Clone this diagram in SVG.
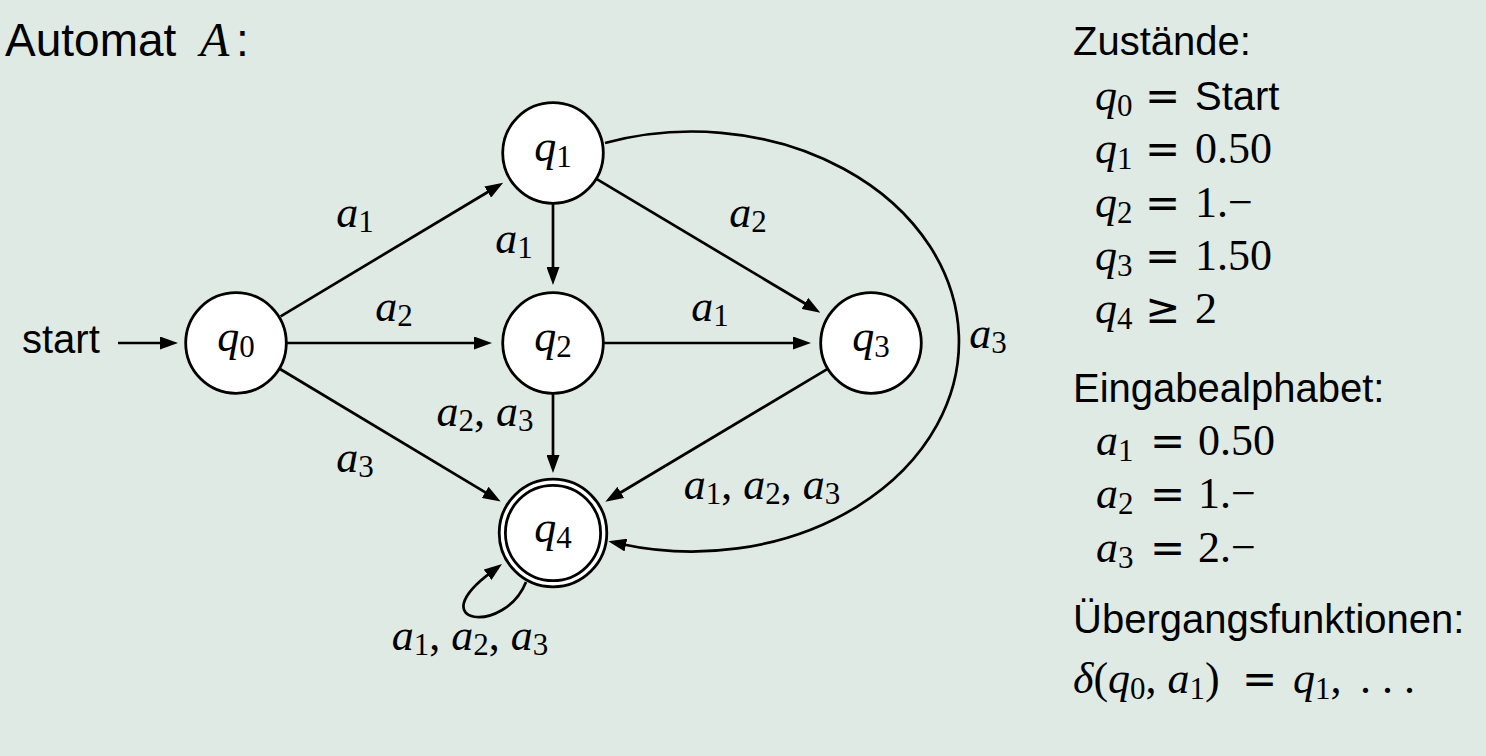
<svg xmlns="http://www.w3.org/2000/svg" width="1486" height="756" viewBox="0 0 1486 756">
<defs>
<style>
.node circle{fill:#fff;stroke:#000;stroke-width:2.8}
.edge{fill:none;stroke:#000;stroke-width:2.7;marker-end:url(#arr)}
.m{font-family:"Liberation Serif","DejaVu Serif",serif;font-size:44px;fill:#000}
.i{font-style:italic}
.s{font-size:31px}
.eq{font-family:"DejaVu Sans",sans-serif;font-size:42px;fill:#000}
.sans{font-family:"Liberation Sans",Arial,sans-serif;font-size:40px;fill:#000}
.ctr{text-anchor:middle}
</style>
<marker id="arr" markerUnits="userSpaceOnUse" markerWidth="18" markerHeight="13" refX="5" refY="6.5" orient="auto">
<path d="M0,0 L18,6.5 L0,13 z" fill="#000"/>
</marker>
</defs>
<rect x="0" y="0" width="1486" height="756" fill="#e0eae4"/>

<!-- title -->
<g id="title">
<text x="5" y="56" class="sans" style="font-size:46px">Automat</text>
<text x="200" y="56" class="m i" style="font-size:48px">A</text>
<text x="236" y="56" class="sans" style="font-size:46px">:</text>
</g>

<!-- connectors -->
<g id="connectors">
<path class="edge" d="M118,343 L165,343"/>
<path class="edge" d="M280.6,316.3 L492,189.5"/>
<path class="edge" d="M287,343 L479,343"/>
<path class="edge" d="M280,369 L489.5,494.9"/>
<path class="edge" d="M553,204 L553,272"/>
<path class="edge" d="M596.8,179.2 L809.2,306"/>
<path class="edge" d="M604,343 L798,343"/>
<path class="edge" d="M553,394 L553,460"/>
<path class="edge" d="M827.2,369.2 L616.5,495"/>
<path class="edge" d="M605,143 A267,210 0 1 1 621,544"/>
<path class="edge" d="M526,582 C505,635 420,625 491.6,571.8"/>
</g>

<!-- edge labels -->
<g id="edge-labels">
<text x="22" y="353" class="sans">start</text>
<text class="m ctr" x="355" y="227"><tspan class="i">a</tspan><tspan class="s" dy="5">1</tspan></text>
<text class="m ctr" x="514" y="253"><tspan class="i">a</tspan><tspan class="s" dy="5">1</tspan></text>
<text class="m ctr" x="748" y="227"><tspan class="i">a</tspan><tspan class="s" dy="5">2</tspan></text>
<text class="m ctr" x="394" y="321"><tspan class="i">a</tspan><tspan class="s" dy="5">2</tspan></text>
<text class="m ctr" x="710" y="321"><tspan class="i">a</tspan><tspan class="s" dy="5">1</tspan></text>
<text class="m ctr" x="988" y="348"><tspan class="i">a</tspan><tspan class="s" dy="5">3</tspan></text>
<text class="m ctr" x="355" y="472"><tspan class="i">a</tspan><tspan class="s" dy="5">3</tspan></text>
<text class="m ctr" x="485" y="426"><tspan class="i">a</tspan><tspan class="s" dy="5">2</tspan><tspan dy="-5">, </tspan><tspan class="i">a</tspan><tspan class="s" dy="5">3</tspan></text>
<text class="m ctr" x="762" y="499"><tspan class="i">a</tspan><tspan class="s" dy="5">1</tspan><tspan dy="-5">, </tspan><tspan class="i">a</tspan><tspan class="s" dy="5">2</tspan><tspan dy="-5">, </tspan><tspan class="i">a</tspan><tspan class="s" dy="5">3</tspan></text>
<text class="m ctr" x="470" y="650"><tspan class="i">a</tspan><tspan class="s" dy="5">1</tspan><tspan dy="-5">, </tspan><tspan class="i">a</tspan><tspan class="s" dy="5">2</tspan><tspan dy="-5">, </tspan><tspan class="i">a</tspan><tspan class="s" dy="5">3</tspan></text>
</g>

<!-- nodes -->
<g id="q0" class="node"><circle cx="236" cy="343" r="50.3"/><text class="m ctr" x="236" y="351"><tspan class="i">q</tspan><tspan class="s" dy="6">0</tspan></text></g>
<g id="q1" class="node"><circle cx="553" cy="153" r="50.3"/><text class="m ctr" x="553" y="161"><tspan class="i">q</tspan><tspan class="s" dy="6">1</tspan></text></g>
<g id="q2" class="node"><circle cx="553" cy="343" r="50.3"/><text class="m ctr" x="553" y="351"><tspan class="i">q</tspan><tspan class="s" dy="6">2</tspan></text></g>
<g id="q3" class="node"><circle cx="871" cy="343" r="50.3"/><text class="m ctr" x="871" y="351"><tspan class="i">q</tspan><tspan class="s" dy="6">3</tspan></text></g>
<g id="q4" class="node"><circle cx="553" cy="533" r="53.8"/><circle cx="553" cy="533" r="47.6" style="fill:none"/><text class="m ctr" x="553" y="542"><tspan class="i">q</tspan><tspan class="s" dy="6">4</tspan></text></g>

<!-- right side -->
<g id="legend">
<text x="1073" y="55" class="sans">Zustände:</text>
<text class="m" x="1095" y="110"><tspan class="i">q</tspan><tspan class="s" dy="6">0</tspan></text>
<text class="eq" x="1145" y="110">=</text>
<text class="sans" x="1195" y="110">Start</text>
<text class="m" x="1095" y="163"><tspan class="i">q</tspan><tspan class="s" dy="6">1</tspan></text>
<text class="eq" x="1145" y="163">=</text>
<text class="m" x="1195" y="163">0.50</text>
<text class="m" x="1095" y="217"><tspan class="i">q</tspan><tspan class="s" dy="6">2</tspan></text>
<text class="eq" x="1145" y="217">=</text>
<text class="m" x="1195" y="217">1.−</text>
<text class="m" x="1095" y="270"><tspan class="i">q</tspan><tspan class="s" dy="6">3</tspan></text>
<text class="eq" x="1145" y="270">=</text>
<text class="m" x="1195" y="270">1.50</text>
<text class="m" x="1095" y="323"><tspan class="i">q</tspan><tspan class="s" dy="6">4</tspan></text>
<text class="eq" x="1145" y="323">≥</text>
<text class="m" x="1195" y="323">2</text>

<text x="1073" y="402" class="sans">Eingabealphabet:</text>
<text class="m" x="1096" y="455"><tspan class="i">a</tspan><tspan class="s" dy="6">1</tspan></text>
<text class="eq" x="1150" y="455">=</text>
<text class="m" x="1198" y="455">0.50</text>
<text class="m" x="1096" y="508"><tspan class="i">a</tspan><tspan class="s" dy="6">2</tspan></text>
<text class="eq" x="1150" y="508">=</text>
<text class="m" x="1198" y="508">1.−</text>
<text class="m" x="1096" y="562"><tspan class="i">a</tspan><tspan class="s" dy="6">3</tspan></text>
<text class="eq" x="1150" y="562">=</text>
<text class="m" x="1198" y="562">2.−</text>

<text x="1073" y="633" class="sans">Übergangsfunktionen:</text>
<text class="m" x="1073" y="693"><tspan class="i">δ</tspan>(<tspan class="i">q</tspan><tspan class="s" dy="6">0</tspan><tspan dy="-6">, </tspan><tspan class="i">a</tspan><tspan class="s" dy="6">1</tspan><tspan dy="-6">)</tspan></text>
<text class="eq" x="1242" y="693">=</text>
<text class="m" x="1293" y="693"><tspan class="i">q</tspan><tspan class="s" dy="6">1</tspan><tspan dy="-6">,</tspan></text>
<text class="m" x="1360" y="693">. . .</text>
</g>
</svg>
